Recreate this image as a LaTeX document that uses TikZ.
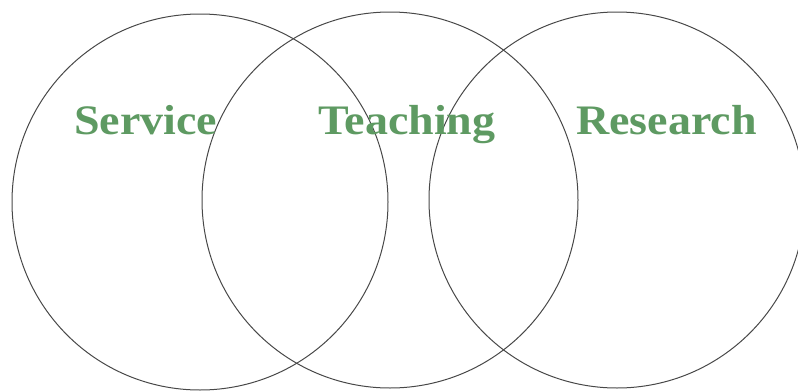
\documentclass[tikz,border=0pt]{standalone}
\usepackage{fontspec}
\setmainfont{Liberation Serif}
\definecolor{lblgreen}{HTML}{5E9A62}
\definecolor{ringgray}{HTML}{484848}
\tikzset{
  ring/.style={draw=ringgray, line width=1pt},
  lbl/.style={text=lblgreen, font=\fontsize{42}{44}\selectfont\bfseries, anchor=base west, inner sep=0pt, xscale=1.095}
}
\begin{document}
\begin{tikzpicture}[x=1pt,y=-1pt]
\useasboundingbox (0,0) rectangle (798,391);
\begin{scope}
\clip (0,0) rectangle (798,391);
\node[ring, circle, minimum size=376pt, inner sep=0pt] (service) at (200,202) {};
\node[ring, circle, minimum size=376pt, inner sep=0pt] (teaching) at (390,200) {};
\node[ring, circle, minimum size=376pt, inner sep=0pt] (research) at (617,200) {};
\end{scope}
\node[lbl] (tservice) at (74,134) {Service};
\node[lbl] (tteaching) at (318,134) {Teaching};
\node[lbl] (tresearch) at (576,134) {Research};
\end{tikzpicture}
\end{document}
